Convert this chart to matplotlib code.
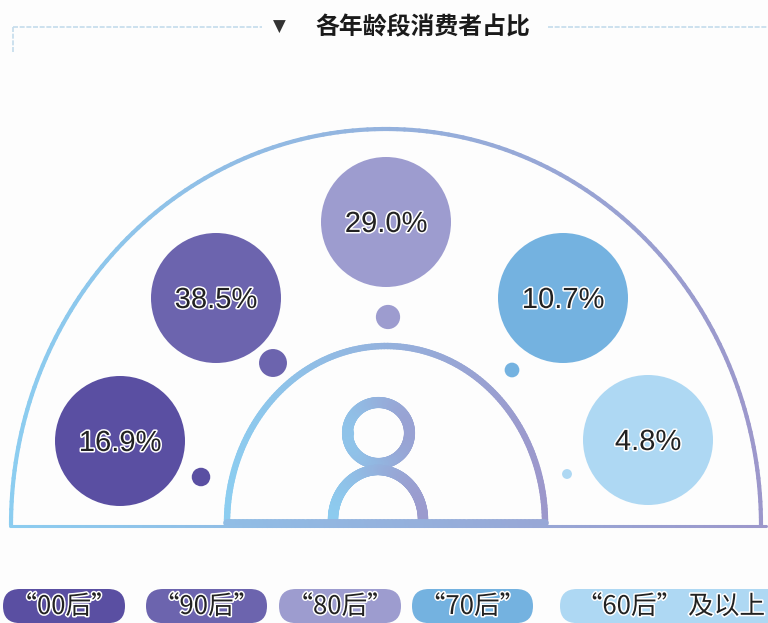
import numpy as np
import matplotlib
matplotlib.use('Agg')
import matplotlib.pyplot as plt
import matplotlib.patheffects as pe
from matplotlib.collections import LineCollection
from matplotlib.patches import Circle, FancyBboxPatch

plt.rcParams['font.family'] = ['Liberation Sans', 'Noto Sans CJK SC', 'DejaVu Sans']

title = '各年龄段消费者占比'
groups = ['“00后”', '“90后”', '“80后”', '“70后”', '“60后” 及以上']
shares = [16.9, 38.5, 29.0, 10.7, 4.8]
colors = ['#5A4FA2', '#6C64AE', '#9D9CCF', '#74B2E0', '#AED8F3']

# layout in image pixels
big_xy = [(120, 441), (216, 298), (386, 222), (563, 298), (648, 440)]
dot_xy = [(201, 477), (273, 363), (388, 317), (512, 370), (567, 474)]
pill_x = [(3, 125), (146, 267), (279, 401), (412, 533), (560, 790)]
LIGHT = np.array(matplotlib.colors.to_rgb('#8CCDF0'))
DARK = np.array(matplotlib.colors.to_rgb('#9C97CB'))

fig = plt.figure(figsize=(7.68, 6.23), dpi=100, facecolor='#FDFDFD')
ax = fig.add_axes([0, 0, 1, 1])
ax.set_xlim(0, 768)
ax.set_ylim(623, 0)
ax.axis('off')


# stroke that fades from light blue to purple, left to right
def grad_line(x, y, lw, x0=None, x1=None):
    x0 = x.min() if x0 is None else x0
    x1 = x.max() if x1 is None else x1
    pts = np.column_stack([x, y])
    segs = np.stack([pts[:-1], pts[1:]], axis=1)
    t = np.clip(((x[:-1] + x[1:]) / 2 - x0) / (x1 - x0), 0, 1)[:, None]
    lc = LineCollection(segs, colors=LIGHT * (1 - t) + DARK * t, linewidths=lw,
                        capstyle='round', antialiaseds=True)
    ax.add_collection(lc)


def arc(cx, cy, rx, ry, lw, x0=None, x1=None, start=180, stop=360):
    a = np.radians(np.linspace(start, stop, 160))
    grad_line(cx + rx * np.cos(a), cy + ry * np.sin(a), lw, x0, x1)


arc(386, 525, 375, 396, 3.0)
arc(386, 523, 159, 177, 4.6)
arc(378.5, 433, 31, 30.5, 8, 330, 430, 0, 360)
arc(378, 520, 45, 50, 7.5, 330, 430)
grad_line(np.linspace(227, 545, 80), np.full(80, 522.5), 5.5, 10, 765)
grad_line(np.linspace(10, 766, 160), np.full(160, 525.5), 2.2)

outline = [pe.withStroke(linewidth=2.2, foreground='white')]

for v, c, (bx, by), (dx, dy) in zip(shares, colors, big_xy, dot_xy):
    ax.add_patch(Circle((bx, by), 65, fc=c, ec='none'))
    ax.add_patch(Circle((dx, dy), 2.25 * np.sqrt(v), fc=c, ec='none'))
    ax.text(bx, by + 2, f'{v}%', fontsize=21, color='#222222', ha='center', va='center',
            path_effects=outline)

# header
ax.plot([13, 262], [27, 27], color='#C4DCEC', lw=1.2, ls=(0, (3, 1)))
ax.plot([548, 768], [27, 27], color='#C4DCEC', lw=1.2, ls=(0, (3, 1)))
ax.plot([13, 13], [27, 52], color='#C4DCEC', lw=1.2, ls=(0, (3, 1)))
ax.text(279, 27, '▼', fontsize=12, color='#333333', ha='center', va='center', family='DejaVu Sans')
ax.text(423, 28, title, fontsize=17.2, color='#1A1A1A', ha='center', va='center', fontweight='bold')

# legend pills, cut off by the bottom edge
for g, c, (x0, x1) in zip(groups, colors, pill_x):
    ax.add_patch(FancyBboxPatch((x0 + 17, 606), x1 - x0 - 34, 0.1, boxstyle='round,pad=17',
                                fc=c, ec='none'))
    xc = 671 if x1 > 768 else (x0 + x1) / 2
    ax.text(xc, 607, g, fontsize=18.5, color='#222222', ha='center', va='center',
            family=['Noto Sans CJK SC', 'DejaVu Sans'], path_effects=outline)

fig.savefig('out.png', dpi=100, facecolor=fig.get_facecolor())
